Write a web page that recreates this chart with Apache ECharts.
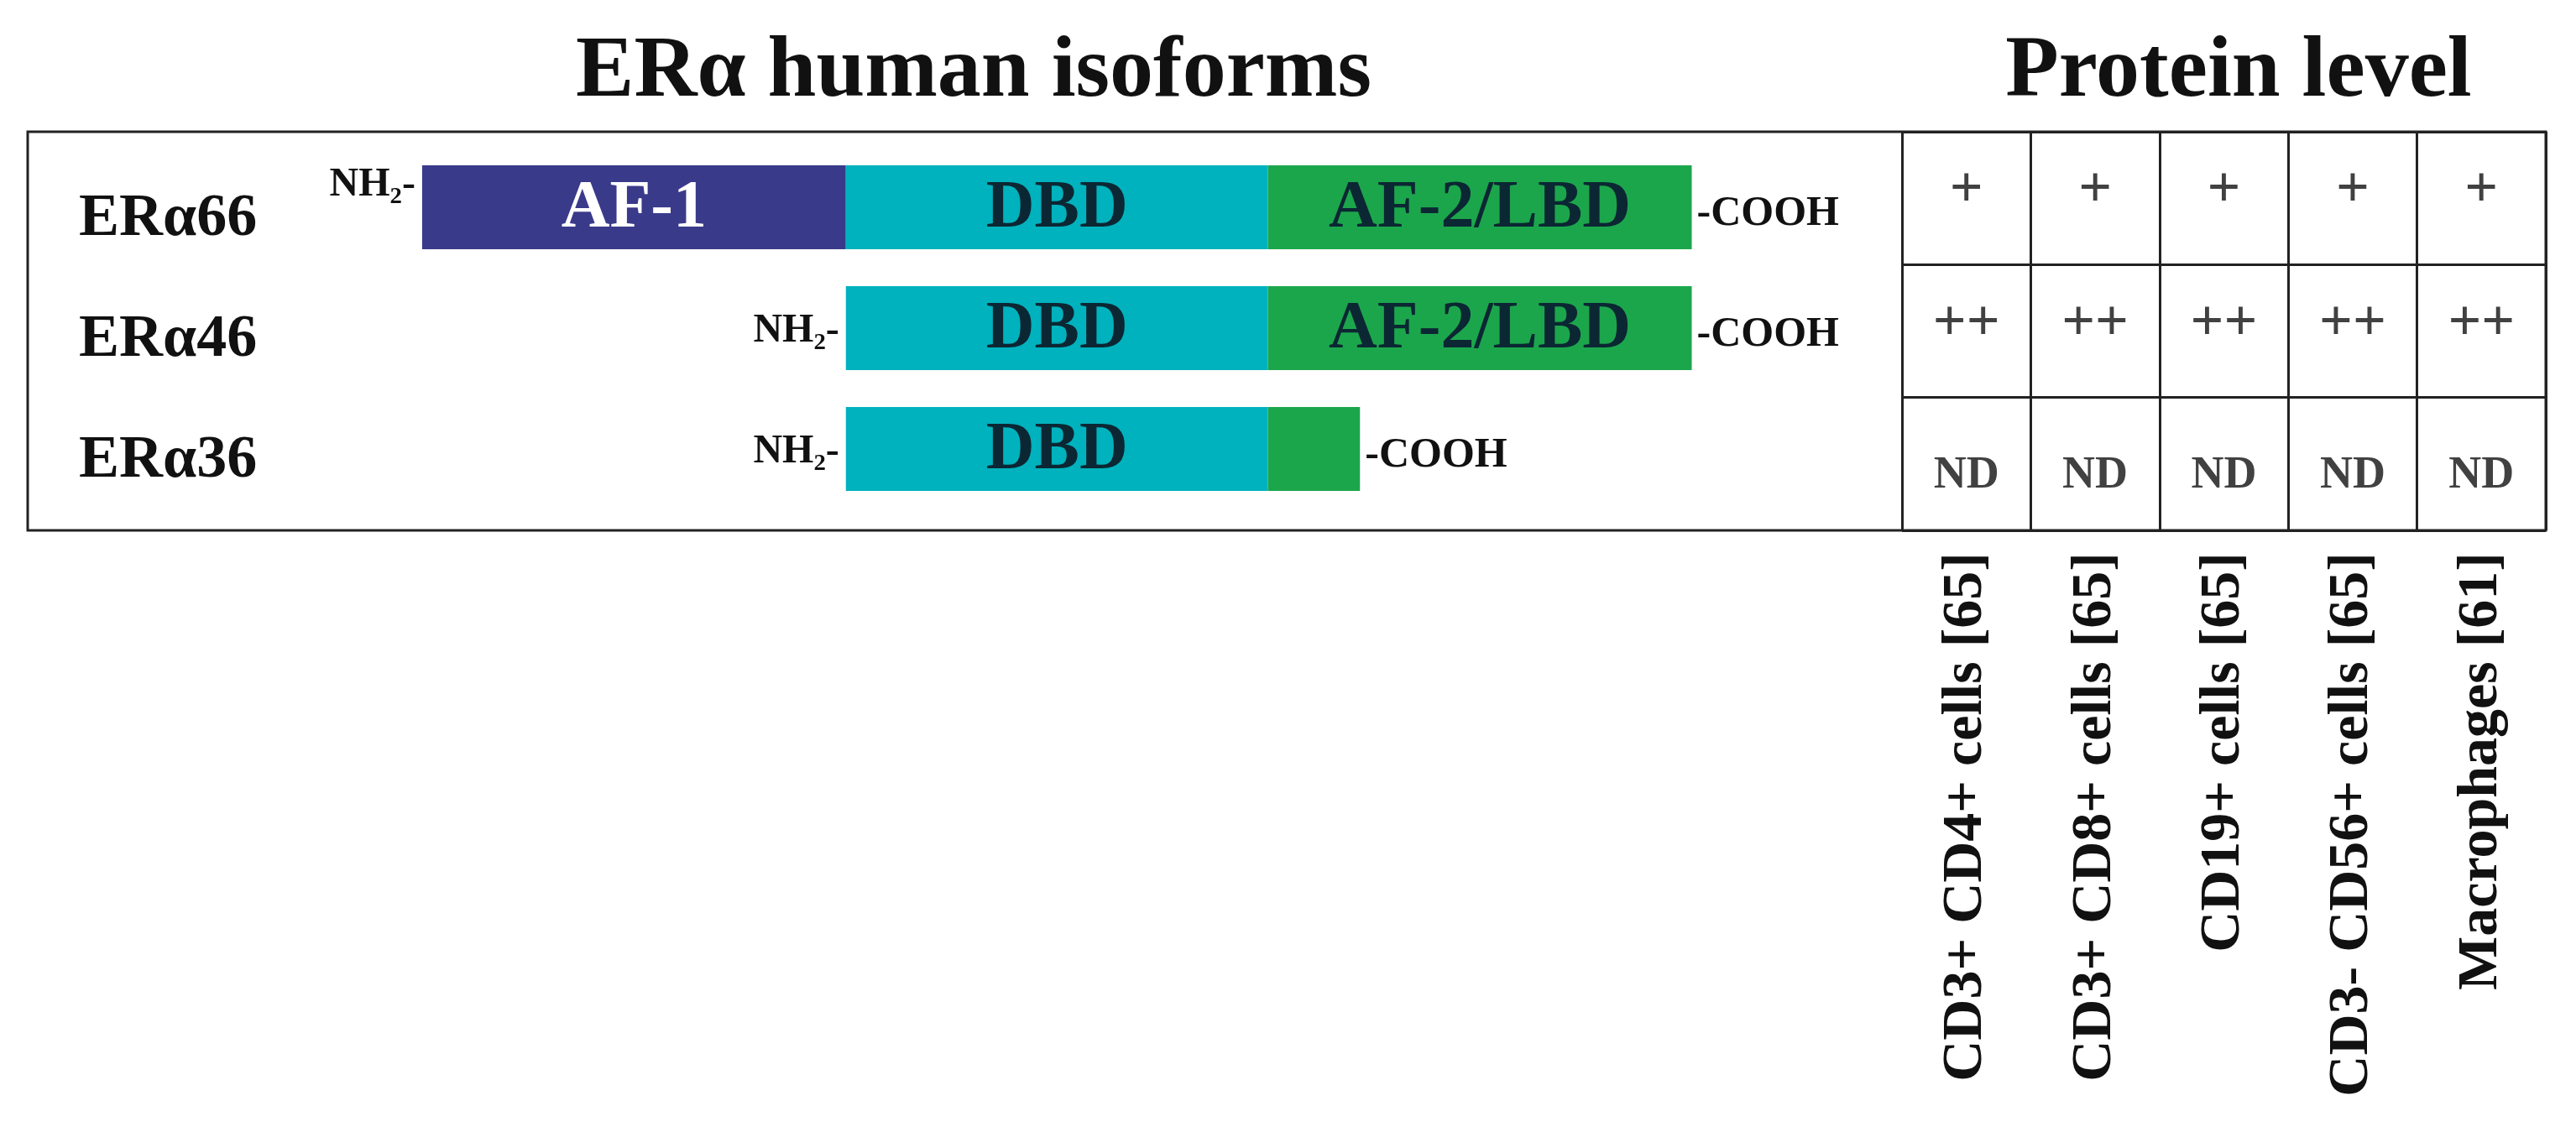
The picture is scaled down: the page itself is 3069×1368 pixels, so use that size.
<!DOCTYPE html>
<html><head><meta charset="utf-8">
<script src="https://cdn.jsdelivr.net/npm/echarts@6/dist/echarts.min.js"></script>
<style>html,body{margin:0;background:#fff}#c{width:3069px;height:1368px}</style>
</head><body><div id="c"></div>
<script>
var isoforms = ['ERα66', 'ERα46', 'ERα36'];
// domain segments: [row, start, end, name]
var segments = [
    [0, 257, 515, 'AF-1'], [0, 515, 772, 'DBD'], [0, 772, 1030, 'AF-2/LBD'],
    [1, 515, 772, 'DBD'], [1, 772, 1030, 'AF-2/LBD'],
    [2, 515, 772, 'DBD'], [2, 772, 828, '']
];
var proteinStart = [257, 515, 515];
var proteinEnd = [1030, 1030, 828];
var cellTypes = ['CD3+ CD4+ cells [65]', 'CD3+ CD8+ cells [65]', 'CD19+ cells [65]', 'CD3- CD56+ cells [65]', 'Macrophages [61]'];
var levels = ['+', '++', 'ND'];

var colors = { 'AF-1': '#3a3a8a', 'DBD': '#00b2bd', 'AF-2/LBD': '#1ca64c', '': '#1ca64c' };
var font = '"Liberation Serif", serif';

var cells = [];
levels.forEach(function (lv, r) {
    cellTypes.forEach(function (c, i) { cells.push([i, r, lv]); });
});

var chart = echarts.init(document.getElementById('c'));
chart.setOption({
    animation: false,
    textStyle: { fontFamily: font },
    title: [
        { text: 'ERα human isoforms', left: 1155, top: 30, textAlign: 'center',
          textStyle: { fontSize: 104, fontWeight: 'bold', color: '#111', fontFamily: font } },
        { text: 'Protein level', left: 2662, top: 30, textAlign: 'center',
          textStyle: { fontSize: 104, fontWeight: 'bold', color: '#111', fontFamily: font } }
    ],
    graphic: [{ type: 'rect', shape: { x: 33, y: 157, width: 3000, height: 475 },
        style: { fill: 'none', stroke: '#222', lineWidth: 3 } }],
    grid: [
        { left: 0, width: 2266, top: 175, height: 432 },
        { left: 2266, width: 767, top: 157, height: 475 }
    ],
    xAxis: [
        { gridIndex: 0, type: 'value', min: 0, max: 1158, show: false },
        { gridIndex: 1, type: 'category', data: cellTypes, position: 'bottom',
          axisTick: { show: false }, axisLine: { show: false },
          splitLine: { show: true, lineStyle: { color: '#222', width: 3 } },
          axisLabel: { rotate: 90, margin: 26, fontSize: 68, fontWeight: 'bold', color: '#111', fontFamily: font, interval: 0 } }
    ],
    yAxis: [
        { gridIndex: 0, type: 'category', data: isoforms, inverse: true, show: false },
        { gridIndex: 1, type: 'category', data: levels, inverse: true, show: true,
          axisTick: { show: false }, axisLine: { show: false }, axisLabel: { show: false },
          splitLine: { show: true, lineStyle: { color: '#222', width: 3 } } }
    ],
    series: [
        {
            type: 'custom', xAxisIndex: 0, yAxisIndex: 0, data: segments,
            renderItem: function (params, api) {
                var a = api.coord([api.value(1), api.value(0)]);
                var b = api.coord([api.value(2), api.value(0)]);
                var name = segments[params.dataIndex][3];
                return { type: 'group', children: [
                    { type: 'rect', shape: { x: a[0], y: a[1] - 50, width: b[0] - a[0], height: 100 },
                      style: { fill: colors[name] } },
                    { type: 'text', x: (a[0] + b[0]) / 2, y: a[1] + 2,
                      style: { text: name, fontSize: 80, fontWeight: 'bold', fontFamily: font,
                               fill: name === 'AF-1' ? '#fff' : '#0b2733', align: 'center', verticalAlign: 'middle' } }
                ] };
            }
        },
        {
            type: 'custom', xAxisIndex: 0, yAxisIndex: 0, data: isoforms.map(function (n, i) { return [i, proteinStart[i], proteinEnd[i], n]; }),
            renderItem: function (params, api) {
                var i = params.dataIndex;
                var a = api.coord([api.value(1), api.value(0)]);
                var b = api.coord([api.value(2), api.value(0)]);
                return { type: 'group', children: [
                    { type: 'text', x: 94, y: a[1] + 14,
                      style: { text: isoforms[i], fontSize: 72, fontWeight: 'bold', fontFamily: font, fill: '#111', verticalAlign: 'middle' } },
                    { type: 'text', x: a[0] - 8, y: i === 0 ? a[1] - 26 : a[1] + 4,
                      style: { text: 'NH₂-', fontSize: 48, fontWeight: 'bold', fontFamily: font, fill: '#111', align: 'right', verticalAlign: 'middle' } },
                    { type: 'text', x: b[0] + 6, y: a[1] + 8,
                      style: { text: '-COOH', fontSize: 50, fontWeight: 'bold', fontFamily: font, fill: '#111', verticalAlign: 'middle' } }
                ] };
            }
        },
        {
            type: 'scatter', xAxisIndex: 1, yAxisIndex: 1, symbolSize: 0,
            data: cells.map(function (c) {
                return { value: c, label: c[2] === 'ND'
                    ? { fontSize: 54, fontWeight: 'bold', color: '#111', offset: [0, 14] }
                    : { fontSize: 70, fontWeight: 'bold', color: '#111', offset: [0, -8] } };
            }),
            label: { show: true, position: 'inside', fontFamily: font, color: '#111',
                formatter: function (p) { return p.value[2]; } }
        }
    ]
});
</script></body></html>
